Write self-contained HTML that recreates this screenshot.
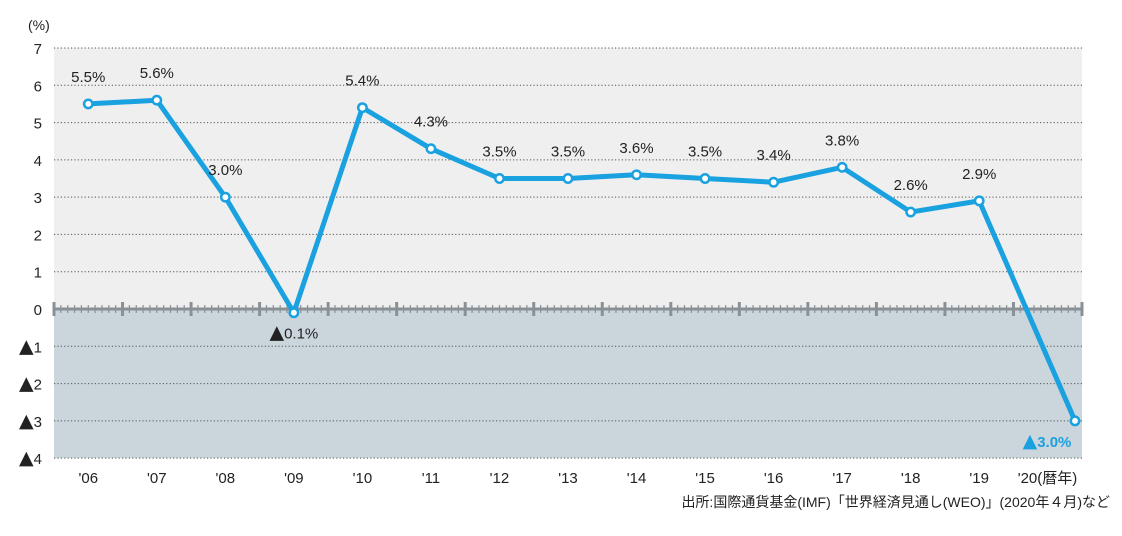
<!DOCTYPE html>
<html><head><meta charset="utf-8"><style>
body{margin:0;background:#fff;width:1122px;height:531px;overflow:hidden;font-family:"Liberation Sans","Noto Sans CJK JP",sans-serif}
</style></head><body>
<svg id="c" width="1122" height="531" font-family="Liberation Sans, Noto Sans CJK JP, sans-serif"></svg>
<script>
const categories=["'06","'07","'08","'09","'10","'11","'12","'13","'14","'15","'16","'17","'18","'19","'20"];
const values=[5.5,5.6,3.0,-0.1,5.4,4.3,3.5,3.5,3.6,3.5,3.4,3.8,2.6,2.9,-3.0];
const valueLabels=["5.5%","5.6%","3.0%","▲0.1%","5.4%","4.3%","3.5%","3.5%","3.6%","3.5%","3.4%","3.8%","2.6%","2.9%","▲3.0%"];
const yTicks=[7,6,5,4,3,2,1,0,-1,-2,-3,-4];
const yTickLabels=["7","6","5","4","3","2","1","0","▲1","▲2","▲3","▲4"];
const NS="http://www.w3.org/2000/svg",svg=document.getElementById('c');
const L=54,R=1082,T=48,B=458,step=(R-L)/categories.length;
const y=v=>309-(v*(309-T)/7);
const x=i=>i===categories.length-1?R-7:L+step*(i+0.5);
function el(t,a,p){const e=document.createElementNS(NS,t);for(const k in a)e.setAttribute(k,a[k]);(p||svg).appendChild(e);return e;}
function setText(t,s){
 if(s.startsWith('▲')){
  const a=el('tspan',{'font-size':19,'font-family':'DejaVu Sans, sans-serif'},t);a.textContent='▲';
  const b=el('tspan',{},t);b.textContent=s.slice(1);
 } else t.textContent=s;
}
let r=el('rect',{x:L,y:T,width:R-L,height:y(0)-T,fill:'#efefef'});


r=el('rect',{x:L,y:y(0),width:R-L,height:B-y(0),fill:'#cbd5dc'});


yTicks.forEach((v,i)=>{
 if(v!==0){const g=el('line',{x1:L,x2:R,y1:y(v),y2:y(v),stroke:'#555','stroke-dasharray':'1.2 2.2','stroke-width':1});
 
 }
 const t=el('text',{x:42,y:y(v)+6,'text-anchor':'end','font-size':15,fill:'#222'});
 
 
 setText(t,yTickLabels[i]);
});
let u=el('text',{x:28,y:30,'font-size':14,fill:'#222'});


u.textContent='(%)';
const y0=y(0);
let ax=el('line',{x1:L,x2:R,y1:y0,y2:y0,stroke:'#8a9196','stroke-width':3});


for(let i=0;i<=categories.length;i++){
 const xx=L+step*i;
 const m=el('line',{x1:xx,x2:xx,y1:y0-7,y2:y0+7,stroke:'#8a9196','stroke-width':3});
 
 
 if(i<categories.length)for(let k=1;k<10;k++){
  const n=el('line',{x1:xx+step*k/10,x2:xx+step*k/10,y1:y0-4,y2:y0+4,stroke:'#8a9196','stroke-width':1.2});
  
  
 }
}
categories.forEach((c,i)=>{
 const t=el('text',{x:L+step*(i+0.5),y:483,'text-anchor':'middle','font-size':15,fill:'#222'});
 
 
 t.textContent=c+(i===categories.length-1?'(暦年)':'');
 if(i===categories.length-1){t.setAttribute('text-anchor','start');t.setAttribute('x',L+step*(i+0.5)-30);}
});
const pts=values.map((v,i)=>x(i)+','+y(v)).join(' ');
let ln=el('polyline',{points:pts,fill:'none',stroke:'#1aa1e0','stroke-width':5,'stroke-linejoin':'round'});


values.forEach((v,i)=>{
 const c=el('circle',{cx:x(i),cy:y(v),r:4.2,fill:'#fff',stroke:'#1aa1e0','stroke-width':2.5});
 
 
 const neg=v<0;
 const t=el('text',{x:x(i)+(i===categories.length-1?-28:0),y:neg?y(v)+26:y(v)-22,'text-anchor':'middle','font-size':15,fill:i===categories.length-1?'#1aa1e0':'#222','font-weight':i===categories.length-1?'bold':'normal'});
 
 
 setText(t,valueLabels[i]);
});
let s=el('text',{x:1110,y:507,'text-anchor':'end','font-size':14,fill:'#222'});


s.textContent='出所:国際通貨基金(IMF)「世界経済見通し(WEO)」(2020年４月)など';
</script>
</body></html>
